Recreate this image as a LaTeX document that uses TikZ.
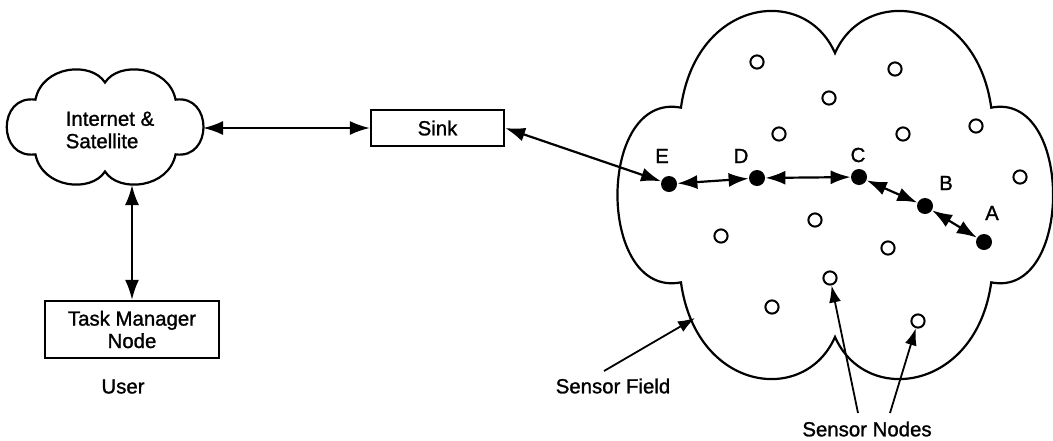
\documentclass[tikz,border=0pt]{standalone}
\usepackage{fontspec}
\setmainfont{Liberation Sans}[FakeBold=1.2]
\usepackage{tikz}
\usetikzlibrary{arrows.meta}

\tikzset{
    pics/fieldcloud/.style={code={
        \draw[line width=1.1pt, line join=miter]
            (-0.71,0.48) .. controls (-0.64,1.08) and (-0.14,1.16) .. (0,0.78)
            .. controls (0.14,1.16) and (0.65,1.08) .. (0.72,0.48)
            .. controls (1.1,0.57) and (1.1,-0.57) .. (0.72,-0.48)
            .. controls (0.65,-1.08) and (0.14,-1.16) .. (0,-0.78)
            .. controls (-0.14,-1.16) and (-0.64,-1.08) .. (-0.71,-0.48)
            .. controls (-1.1,-0.57) and (-1.1,0.57) .. (-0.71,0.48) -- cycle;
    }}
}

\begin{document}
\begin{tikzpicture}[
    x=0.5pt, y=-0.5pt,
    font=\fontsize{10.2}{11.2}\selectfont,
    box/.style={rectangle, draw, line width=1.1pt, align=center, inner sep=0pt},
    relay/.style={circle, fill=black, inner sep=0pt, minimum size=8pt},
    sensor/.style={circle, draw, line width=1pt, inner sep=0pt, minimum size=6.6pt},
    link/.style={{Latex[length=10pt,width=7pt]}-{Latex[length=10pt,width=7pt]}, line width=1.1pt},
    pointer/.style={-{Latex[length=8.5pt,width=6pt]}, line width=0.9pt}
]
    \useasboundingbox (0,0) rectangle (1053,440);

    \pic[xscale=98, yscale=57] at (105,127) {fieldcloud};
    \pic[xscale=217, yscale=182] at (835,195) {fieldcloud};

    \node[align=left] (inet) at (110,130) {Internet \&\\Satellite};
    \coordinate (inetE) at (203,128);
    \coordinate (inetS) at (132,185);
    \node[box, minimum width=66.5pt, minimum height=18pt] (sink) at (437.5,128) {Sink};
    \node[box, minimum width=87pt, minimum height=28.5pt] (task) at (132,329.5) {Task Manager\\Node};
    \node (user) at (123,386.5) {User};

    \node[relay] (E) at (669,184) {};
    \node[relay] (D) at (757,178) {};
    \node[relay] (C) at (859,177) {};
    \node[relay] (B) at (925,206) {};
    \node[relay] (A) at (984,242) {};
    \node (lblE) at (662,156) {E};
    \node (lblD) at (741,156) {D};
    \node (lblC) at (858,155) {C};
    \node (lblB) at (946,183) {B};
    \node (lblA) at (992,213) {A};

    \node[sensor] (s1) at (757,62) {};
    \node[sensor] (s2) at (895,69) {};
    \node[sensor] (s3) at (829,98) {};
    \node[sensor] (s4) at (779,134) {};
    \node[sensor] (s5) at (903,134) {};
    \node[sensor] (s6) at (976,126) {};
    \node[sensor] (s7) at (1020,177) {};
    \node[sensor] (s8) at (815,220) {};
    \node[sensor] (s9) at (721,236) {};
    \node[sensor] (s10) at (888,248) {};
    \node[sensor] (s11) at (830,278) {};
    \node[sensor] (s12) at (772,307) {};
    \node[sensor] (s13) at (918,321) {};

    \node (fieldlbl) at (613,386) {Sensor Field};
    \coordinate (fieldtail) at (604,371);
    \coordinate (fieldedge) at (695,318);
    \node (nodeslbl) at (867,429) {Sensor Nodes};
    \coordinate (tailL) at (858,413);
    \coordinate (tailR) at (890,413);

    \draw[link] (inetE) -- (sink);
    \draw[link] (inetS) -- (task);
    \draw[link] (sink.east) -- (E);
    \draw[link] (E) -- (D);
    \draw[link] (D) -- (C);
    \draw[link] (C) -- (B);
    \draw[link] (B) -- (A);

    \draw[pointer] (fieldtail) -- (fieldedge);
    \draw[pointer] (tailL) -- (s11);
    \draw[pointer] (tailR) -- (s13);
\end{tikzpicture}
\end{document}
